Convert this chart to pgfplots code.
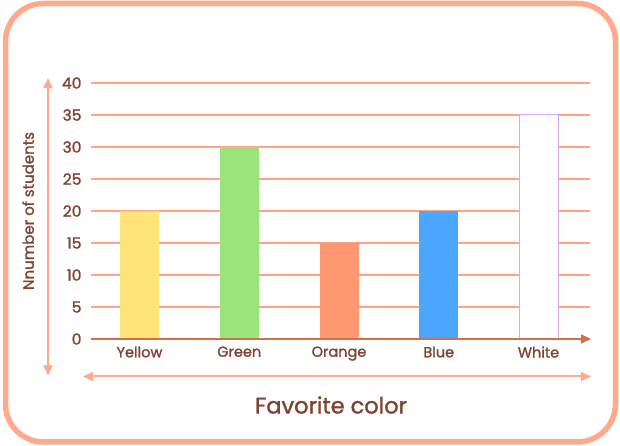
\documentclass[border=0pt]{standalone}
\usepackage{pgfplots}
\pgfplotsset{compat=1.18}
\usepackage{fontspec}
\setmainfont{Poppins}[UprightFeatures={FakeBold=1.4}]
\usetikzlibrary{arrows.meta}

\definecolor{frame}{HTML}{FFAA8C}
\definecolor{gridc}{HTML}{FFA585}
\definecolor{txt}{HTML}{7E4431}
\definecolor{xaxis}{HTML}{D2704A}
\definecolor{cyellow}{HTML}{FFE57A}
\definecolor{cgreen}{HTML}{9AE57A}
\definecolor{corange}{HTML}{FF9870}
\definecolor{cblue}{HTML}{4AA6FF}
\definecolor{cwhiteb}{HTML}{DDA8F8}

\begin{document}
\begin{tikzpicture}[x=1pt,y=1pt]
    \useasboundingbox (0,0) rectangle (620,446);
    % rounded frame
    \draw[frame, line width=5.5pt, rounded corners=38pt] (5.5,4) rectangle (615.5,442.5);

    \begin{axis}[
        at={(91pt,107pt)}, anchor=south west,
        scale only axis,
        width=499pt, height=256pt,
        xmin=-0.486, xmax=4.516,
        ymin=0, ymax=40,
        ytick={0,5,...,40},
        xtick={0,1,2,3,4},
        xticklabels={Yellow, Green, Orange, Blue, White},
        /pgf/number format/assume math mode=true,
        axis line style={draw=none},
        major tick length=0pt,
        ymajorgrids,
        grid style={gridc, line width=1.6pt},
        tick label style={text=txt},
        yticklabel style={font=\fontsize{15.5}{15.5}\selectfont, xshift=-6pt},
        xticklabel style={font=\fontsize{14.5}{14.5}\selectfont, yshift=-4pt},
        ylabel={Nnumber of students},
        ylabel style={at={(axis description cs:-0.126,0.5)}, anchor=center, rotate=0,
            text=txt, font=\fontsize{15}{15}\selectfont},
        xlabel={Favorite color},
        xlabel style={at={(axis description cs:0.481,-0.258)}, anchor=center,
            text=txt, font=\fontsize{22.5}{22.5}\selectfont},
        clip=false,
    ]
        \addplot[ybar, bar width=39pt, bar shift=0pt, fill=cyellow, draw=none] coordinates {(0,20)};
        \addplot[ybar, bar width=39pt, bar shift=0pt, fill=cgreen, draw=none] coordinates {(1,30)};
        \addplot[ybar, bar width=39pt, bar shift=0pt, fill=corange, draw=none] coordinates {(2,15)};
        \addplot[ybar, bar width=39pt, bar shift=0pt, fill=cblue, draw=none] coordinates {(3,20)};
        \addplot[ybar, bar width=39pt, bar shift=0pt, fill=white, draw=cwhiteb, line width=1pt] coordinates {(4,35)};
    \end{axis}

    % x axis line with arrow
    \draw[xaxis, line width=2pt, -{Triangle[length=10pt,width=9pt]}] (91,107) -- (591,107);
    % vertical double arrow
    \draw[frame, line width=2pt, {Triangle[length=10pt,width=9pt]}-{Triangle[length=10pt,width=9pt]}] (48,70.5) -- (48,368);
    % horizontal double arrow
    \draw[frame, line width=2pt, {Triangle[length=10pt,width=9pt]}-{Triangle[length=10pt,width=9pt]}] (83,69.5) -- (591,69.5);
\end{tikzpicture}
\end{document}
